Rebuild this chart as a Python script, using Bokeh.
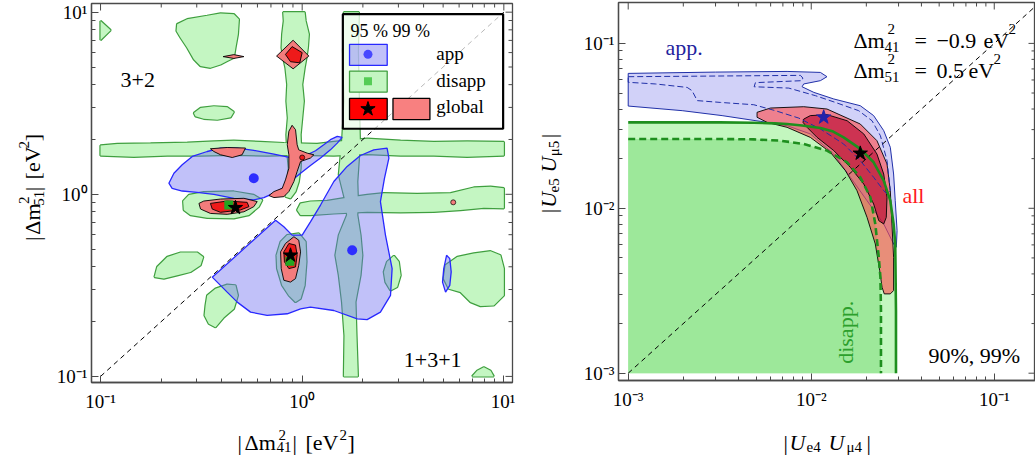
import numpy as np
from bokeh.plotting import figure
from bokeh.layouts import row, column
from bokeh.models import FixedTicker, Label, Range1d, CustomJSTickFormatter
from bokeh.embed import file_html
from bokeh.resources import INLINE

SERIF = "Liberation Serif"

# ================= LEFT PANEL  (values are log10 of |dm41^2|/eV^2 , |dm51^2|/eV^2) =================
# disappearance 99% regions
dis_band_h = [(-1.0, 0.268), (-0.917, 0.276), (-0.752, 0.279), (-0.570, 0.283), (-0.438, 0.290), (-0.339, 0.294),
              (-0.207, 0.287), (-0.091, 0.281), (0.074, 0.276), (0.157, 0.287), (0.322, 0.305), (0.488, 0.294),
              (0.653, 0.287), (0.818, 0.290), (1.0, 0.287), (1.0, 0.213), (0.818, 0.206), (0.653, 0.213),
              (0.488, 0.213), (0.322, 0.221), (0.157, 0.213), (-0.008, 0.217), (-0.174, 0.213), (-0.339, 0.217),
              (-0.504, 0.213), (-0.669, 0.213), (-0.835, 0.206), (-1.0, 0.213)]
dis_band_v09 = [(-0.094, 1.0), (0.012, 1.0), (0.017, 0.952), (0.033, 0.879), (0.028, 0.805), (0.021, 0.750),
                (0.012, 0.695), (0.000, 0.603), (0.008, 0.511), (0.000, 0.419), (-0.008, 0.327), (-0.005, 0.235),
                (-0.008, 0.143), (-0.017, 0.070), (-0.033, 0.015), (-0.058, -0.022), (-0.083, -0.013),
                (-0.074, 0.051), (-0.066, 0.143), (-0.074, 0.235), (-0.078, 0.327), (-0.071, 0.419),
                (-0.078, 0.511), (-0.074, 0.603), (-0.083, 0.695), (-0.094, 0.750), (-0.102, 0.805),
                (-0.099, 0.879), (-0.091, 0.952)]
dis_band_v18 = [(0.207, 1.0), (0.203, 0.787), (0.210, 0.511), (0.198, 0.290), (0.190, 0.199), (0.182, 0.107),
                (0.215, -0.040), (0.223, -0.114), (0.182, -0.224), (0.165, -0.335), (0.182, -0.445),
                (0.198, -0.592), (0.210, -0.776), (0.207, -1.0), (0.276, -1.0), (0.269, -0.776), (0.264, -0.592),
                (0.289, -0.445), (0.298, -0.335), (0.289, -0.224), (0.273, -0.114), (0.276, -0.040),
                (0.273, 0.070), (0.281, 0.199), (0.286, 0.290), (0.281, 0.511), (0.276, 0.787), (0.281, 1.0)]
dis_band_h09 = [(-0.008, -0.050), (0.041, -0.040), (0.124, -0.037), (0.207, -0.022), (0.322, -0.004),
                (0.405, 0.006), (0.570, 0.002), (0.736, 0.006), (0.851, 0.037), (0.934, 0.042), (1.0, 0.033),
                (1.0, -0.077), (0.901, -0.074), (0.785, -0.086), (0.653, -0.096), (0.488, -0.099),
                (0.322, -0.096), (0.157, -0.105), (0.041, -0.114), (-0.008, -0.114), (-0.025, -0.086)]
dis_ring_a = [(-0.590, -0.037), (-0.562, -0.004), (-0.488, 0.011), (-0.339, 0.015), (-0.240, -0.004),
              (-0.198, -0.031), (-0.215, -0.068), (-0.264, -0.114), (-0.339, -0.132), (-0.471, -0.129),
              (-0.554, -0.114), (-0.587, -0.086)]
dis_ring_b = [(-0.107, -0.261), (-0.074, -0.224), (-0.017, -0.215), (0.017, -0.261), (0.021, -0.371),
              (0.012, -0.500), (-0.008, -0.574), (-0.033, -0.592), (-0.066, -0.555), (-0.099, -0.500),
              (-0.124, -0.408), (-0.127, -0.335)]
dis_blob_corner = [(-1.0, 0.952), (-0.950, 0.901), (-1.0, 0.847)]
dis_blob_top = [(-0.620, 0.934), (-0.570, 0.961), (-0.471, 0.980), (-0.405, 0.993), (-0.339, 0.989),
                (-0.314, 0.961), (-0.319, 0.879), (-0.331, 0.805), (-0.339, 0.750), (-0.372, 0.732),
                (-0.405, 0.713), (-0.455, 0.695), (-0.504, 0.704), (-0.537, 0.741), (-0.570, 0.805),
                (-0.603, 0.860), (-0.623, 0.897)]
dis_blob_mid = [(-0.537, 0.447), (-0.504, 0.474), (-0.438, 0.483), (-0.372, 0.478), (-0.339, 0.452),
                (-0.355, 0.423), (-0.421, 0.410), (-0.488, 0.415), (-0.529, 0.428)]
dis_blob_left = [(-0.732, -0.454), (-0.719, -0.399), (-0.669, -0.344), (-0.603, -0.320), (-0.521, -0.320),
                 (-0.491, -0.344), (-0.504, -0.390), (-0.554, -0.426), (-0.620, -0.445), (-0.686, -0.463)]
dis_blob_lowleft = [(-0.479, -0.610), (-0.471, -0.555), (-0.430, -0.518), (-0.372, -0.496), (-0.331, -0.500),
                    (-0.319, -0.555), (-0.339, -0.629), (-0.388, -0.675), (-0.430, -0.730), (-0.463, -0.711),
                    (-0.484, -0.665)]
dis_blob_right1 = [(0.421, -0.371), (0.455, -0.338), (0.479, -0.371), (0.488, -0.445), (0.471, -0.509),
                   (0.438, -0.528), (0.413, -0.482), (0.405, -0.426)]
dis_blob_right2 = [(0.711, -0.390), (0.769, -0.344), (0.851, -0.325), (0.934, -0.313), (0.983, -0.335),
                   (1.0, -0.408), (1.0, -0.555), (0.950, -0.610), (0.884, -0.614), (0.835, -0.592),
                   (0.785, -0.537), (0.727, -0.518), (0.702, -0.463)]
dis_blob_bottom = [(0.843, -1.0), (0.868, -0.969), (0.901, -0.950), (0.934, -0.969), (0.950, -1.0)]

# appearance 99% regions
app_upper = [(-0.661, 0.061), (-0.636, 0.116), (-0.595, 0.162), (-0.545, 0.208), (-0.471, 0.235),
             (-0.405, 0.254), (-0.322, 0.254), (-0.240, 0.241), (-0.140, 0.221), (-0.058, 0.202),
             (0.017, 0.213), (0.066, 0.239), (0.107, 0.272), (0.140, 0.300), (0.174, 0.318), (0.198, 0.313),
             (0.174, 0.281), (0.140, 0.244), (0.091, 0.199), (0.041, 0.158), (-0.008, 0.116), (-0.058, 0.070),
             (-0.099, 0.033), (-0.140, 0.006), (-0.190, -0.018), (-0.240, -0.031), (-0.339, -0.022),
             (-0.438, 0.000), (-0.521, 0.011), (-0.595, 0.018), (-0.645, 0.033)]
app_lower = [(-0.446, -0.455), (-0.355, -0.365), (-0.273, -0.283), (-0.190, -0.200), (-0.132, -0.142),
             (-0.091, -0.178), (-0.050, -0.224), (0.000, -0.224), (0.041, -0.151), (0.091, -0.059),
             (0.157, 0.070), (0.223, 0.153), (0.289, 0.213), (0.355, 0.244), (0.421, 0.254), (0.430, 0.199),
             (0.408, 0.088), (0.388, -0.040), (0.413, -0.224), (0.446, -0.408), (0.438, -0.555),
             (0.388, -0.647), (0.322, -0.688), (0.273, -0.684), (0.157, -0.638), (0.041, -0.619),
             (-0.008, -0.629), (-0.074, -0.656), (-0.174, -0.665), (-0.256, -0.647), (-0.322, -0.592),
             (-0.372, -0.537)]
app_small = [(0.702, -0.408), (0.716, -0.335), (0.732, -0.353), (0.739, -0.426), (0.732, -0.500),
             (0.711, -0.537), (0.696, -0.482)]

# global fit 95% (inner) and 99% (outer) regions
glob_diamond_out = [(-0.127, 0.759), (-0.045, 0.846), (0.033, 0.759), (-0.045, 0.689)]
glob_diamond_in = [(-0.083, 0.768), (-0.050, 0.811), (0.000, 0.778), (-0.012, 0.722), (-0.058, 0.728)]
glob_sliver = [(-0.392, 0.756), (-0.339, 0.767), (-0.289, 0.756), (-0.339, 0.746)]
glob_stripe = [(-0.050, 0.379), (-0.033, 0.355), (-0.025, 0.272), (-0.017, 0.244), (0.025, 0.226),
               (0.058, 0.217), (0.041, 0.199), (-0.008, 0.180), (-0.025, 0.125), (-0.041, 0.070),
               (-0.066, 0.015), (-0.091, -0.013), (-0.140, -0.018), (-0.165, -0.007), (-0.140, 0.015),
               (-0.099, 0.033), (-0.083, 0.079), (-0.066, 0.143), (-0.066, 0.217), (-0.074, 0.272),
               (-0.066, 0.346)]
glob_patch = [(-0.455, 0.250), (-0.372, 0.257), (-0.281, 0.254), (-0.298, 0.217), (-0.347, 0.202),
              (-0.405, 0.217), (-0.438, 0.235)]
glob_left_out = [(-0.512, -0.050), (-0.488, -0.037), (-0.405, -0.026), (-0.289, -0.022), (-0.223, -0.040),
                 (-0.240, -0.068), (-0.289, -0.096), (-0.372, -0.110), (-0.455, -0.105), (-0.504, -0.081)]
glob_left_in = [(-0.455, -0.050), (-0.372, -0.037), (-0.273, -0.044), (-0.264, -0.068), (-0.306, -0.086),
                (-0.405, -0.099), (-0.446, -0.081)]
glob_low_out = [(-0.107, -0.316), (-0.083, -0.270), (-0.041, -0.233), (-0.017, -0.252), (-0.008, -0.316),
                (-0.017, -0.390), (-0.033, -0.463), (-0.058, -0.482), (-0.091, -0.472), (-0.104, -0.408)]
glob_low_in = [(-0.091, -0.316), (-0.066, -0.270), (-0.033, -0.279), (-0.025, -0.335), (-0.033, -0.399),
               (-0.066, -0.408), (-0.088, -0.371)]
glob_islands_out = [(0.749, -0.044)]
glob_islands_in = [(0.000, 0.202)]

app_best = [(-0.240, 0.088), (0.248, -0.307)]
dis_best = [(-0.364, -0.059), (-0.061, -0.368)]
glob_best = [(-0.331, -0.074), (-0.058, -0.335)]

# ================= RIGHT PANEL (values are log10 of |Ue4 Umu4| , |Ue5 Umu5|) =================
dis99_edge = [(-3.0, -1.479), (-2.5, -1.479), (-2.314, -1.481), (-2.20, -1.485), (-2.132, -1.489),
              (-2.05, -1.498), (-1.950, -1.513), (-1.88, -1.535), (-1.823, -1.570), (-1.732, -1.640),
              (-1.659, -1.721), (-1.604, -1.832), (-1.568, -1.954), (-1.550, -2.095), (-1.541, -2.216),
              (-1.537, -2.620), (-1.537, -3.0)]
dis90_edge = [(-3.0, -1.580), (-2.5, -1.580), (-2.314, -1.582), (-2.168, -1.590), (-2.041, -1.610),
              (-1.914, -1.650), (-1.804, -1.721), (-1.732, -1.812), (-1.677, -1.933), (-1.650, -2.095),
              (-1.631, -2.297), (-1.622, -2.418), (-1.619, -2.620), (-1.619, -3.0)]
app99_r = [(-3.0, -1.182), (-2.523, -1.174), (-2.132, -1.170), (-1.950, -1.176), (-1.914, -1.202),
           (-1.950, -1.226), (-2.041, -1.246), (-2.050, -1.263), (-1.986, -1.297), (-1.877, -1.337),
           (-1.732, -1.378), (-1.659, -1.438), (-1.604, -1.529), (-1.568, -1.630), (-1.550, -1.792),
           (-1.541, -1.954), (-1.531, -2.135), (-1.535, -2.236), (-1.550, -2.216), (-1.604, -2.095),
           (-1.695, -1.954), (-1.786, -1.812), (-1.877, -1.671), (-2.005, -1.549), (-2.132, -1.499),
           (-2.278, -1.473), (-2.487, -1.438), (-2.705, -1.408), (-3.0, -1.380)]
app90_r = [(-3.0, -1.202), (-2.523, -1.198), (-2.059, -1.194), (-2.046, -1.210), (-2.050, -1.226),
           (-2.305, -1.238), (-2.312, -1.263), (-2.123, -1.271), (-1.977, -1.317), (-1.868, -1.358),
           (-1.741, -1.408), (-1.668, -1.469), (-1.622, -1.560), (-1.586, -1.711), (-1.568, -1.893),
           (-1.586, -1.913), (-1.604, -1.893), (-1.659, -1.812), (-1.732, -1.711), (-1.823, -1.610),
           (-1.950, -1.519), (-2.068, -1.453), (-2.196, -1.408), (-2.314, -1.372), (-2.496, -1.358),
           (-2.623, -1.347), (-2.651, -1.287), (-2.678, -1.267), (-2.851, -1.246), (-3.0, -1.236)]
all99_r = [(-2.296, -1.418), (-2.223, -1.392), (-2.041, -1.384), (-1.914, -1.398), (-1.732, -1.489),
           (-1.641, -1.590), (-1.586, -1.731), (-1.568, -1.893), (-1.559, -2.095), (-1.550, -2.297),
           (-1.550, -2.499), (-1.568, -2.519), (-1.601, -2.519), (-1.613, -2.479), (-1.626, -2.378),
           (-1.650, -2.216), (-1.695, -2.055), (-1.750, -1.893), (-1.813, -1.772), (-1.895, -1.661),
           (-2.005, -1.570), (-2.132, -1.509), (-2.241, -1.479), (-2.296, -1.448)]
all90_r = [(-2.041, -1.459), (-2.005, -1.438), (-1.914, -1.432), (-1.804, -1.469), (-1.713, -1.549),
           (-1.641, -1.671), (-1.604, -1.792), (-1.586, -1.933), (-1.590, -2.055), (-1.604, -2.095),
           (-1.631, -2.075), (-1.659, -1.974), (-1.713, -1.853), (-1.786, -1.752), (-1.877, -1.650),
           (-1.968, -1.570), (-2.023, -1.509), (-2.045, -1.479)]
app_best_r = [(-1.932, -1.448)]
all_best_r = [(-1.732, -1.667)]

# tick values
left_ticks = [0.1, 1.0, 10.0]
left_minor = [0.2, 0.3, 0.4, 0.5, 0.6, 0.7, 0.8, 0.9, 2, 3, 4, 5, 6, 7, 8, 9]
right_ticks = [1e-3, 1e-2, 1e-1]
right_minor = [2e-3, 3e-3, 4e-3, 5e-3, 6e-3, 7e-3, 8e-3, 9e-3, 2e-2, 3e-2, 4e-2, 5e-2, 6e-2, 7e-2, 8e-2,
               9e-2, 2e-1]


def xy(poly):
    a = np.asarray(poly, dtype=float)
    return (10.0 ** a[:, 0]).tolist(), (10.0 ** a[:, 1]).tolist()


def many(polys):
    xs, ys = [], []
    for pl in polys:
        x, y = xy(pl)
        xs.append(x)
        ys.append(y)
    return xs, ys


FMT = CustomJSTickFormatter(code="""
const e = Math.round(Math.log10(tick));
const sup = {"-3": "\u207b\u00b3", "-2": "\u207b\u00b2", "-1": "\u207b\u00b9", "0": "\u2070", "1": "\u00b9"};
return "10" + sup[String(e)];
""")
AX = "#4a4a4a"
MAIN_H = 418
LAB_H = 37


def style_axis(ax, ticks, minor):
    ax.ticker = FixedTicker(ticks=ticks, minor_ticks=minor)
    ax.formatter = FMT
    ax.major_tick_in = 7
    ax.major_tick_out = 0
    ax.minor_tick_in = 4
    ax.minor_tick_out = 0
    ax.axis_line_color = AX
    ax.axis_line_width = 1.3
    ax.major_tick_line_color = AX
    ax.minor_tick_line_color = AX
    ax.major_label_text_font = SERIF
    ax.major_label_text_font_size = "19px"
    ax.major_label_text_color = "black"


def make_fig(w, xr, yr, left, right, top, frame_h, ticks, minor):
    p = figure(width=w, height=MAIN_H, x_axis_type="log", y_axis_type="log",
               x_range=Range1d(*xr), y_range=Range1d(*yr), output_backend="svg",
               toolbar_location=None, min_border_left=left, min_border_right=right,
               min_border_top=top, min_border_bottom=MAIN_H - top - frame_h)
    p.xgrid.visible = False
    p.ygrid.visible = False
    p.outline_line_color = AX
    p.outline_line_width = 1.3
    style_axis(p.xaxis[0], ticks, minor)
    style_axis(p.yaxis[0], ticks, minor)
    p.xaxis[0].major_label_standoff = 8
    p.yaxis[0].major_label_standoff = 4
    # inward ticks on the top and right frame edges
    inside_t = [t for t in ticks if xr[0] <= t <= xr[1]]
    inside_m = [t for t in minor if xr[0] <= t <= xr[1]]
    p.ray(x=inside_t, y=[yr[1]] * len(inside_t), length=7, length_units="screen", angle=-np.pi / 2,
          line_color=AX, line_width=1)
    p.ray(x=inside_m, y=[yr[1]] * len(inside_m), length=4, length_units="screen", angle=-np.pi / 2,
          line_color=AX, line_width=1)
    inside_t = [t for t in ticks if yr[0] <= t <= yr[1]]
    inside_m = [t for t in minor if yr[0] <= t <= yr[1]]
    p.ray(x=[xr[1]] * len(inside_t), y=inside_t, length=7, length_units="screen", angle=np.pi,
          line_color=AX, line_width=1)
    p.ray(x=[xr[1]] * len(inside_m), y=inside_m, length=4, length_units="screen", angle=np.pi,
          line_color=AX, line_width=1)
    return p


def label_fig(w, h):
    f = figure(width=w, height=h, x_range=Range1d(0, w), y_range=Range1d(0, h), output_backend="svg",
               toolbar_location=None, min_border=0, x_axis_location=None, y_axis_location=None)
    f.grid.visible = False
    f.outline_line_color = None
    return f


def txt(p, x, y, s, size=21, color="black", style="normal", dx=0, dy=0, align="left",
        baseline="alphabetic", angle=0.0):
    p.add_layout(Label(x=x, y=y, text=s, x_offset=dx, y_offset=dy, text_font=SERIF,
                       text_font_size=f"{size}px", text_color=color, text_font_style=style,
                       text_align=align, text_baseline=baseline, angle=angle))


def rich(p, x, y, pieces):
    for s, a, c, size in pieces:
        txt(p, x, y, s, size=size, dx=a, dy=c)


# ------------------------------ LEFT FIGURE ------------------------------
LX = (0.0902, 11.04)
LY = (0.0926, 11.16)
p1 = make_fig(465, LX, LY, 41, 3, 3, 379, left_ticks, left_minor)

greens = [dis_band_h, dis_band_v09, dis_band_v18, dis_band_h09, dis_ring_a, dis_ring_b, dis_blob_corner,
          dis_blob_top, dis_blob_mid, dis_blob_left, dis_blob_lowleft, dis_blob_right1, dis_blob_right2,
          dis_blob_bottom]
gxs, gys = many(greens)
p1.patches(gxs, gys, fill_color=None, line_color="#3f9f3f", line_width=2.4)
p1.patches(gxs, gys, fill_color="#c4f6c2", line_color=None)

axs, ays = many([app_upper, app_lower, app_small])
p1.patches(axs, ays, fill_color="#6b6bf0", fill_alpha=0.42, line_color="#2828ff", line_width=1.3)

oxs, oys = many([glob_diamond_out, glob_sliver, glob_stripe, glob_patch, glob_left_out, glob_low_out])
p1.patches(oxs, oys, fill_color="#f47c7c", line_color="black", line_width=0.9)
ixs, iys = many([glob_diamond_in, glob_left_in, glob_low_in])
p1.patches(ixs, iys, fill_color="#ee1a1a", line_color="black", line_width=0.9)
x, y = xy(glob_islands_out)
p1.scatter(x, y, marker="circle", size=5, fill_color="#f47c7c", line_color="black", line_width=0.7)
x, y = xy(glob_islands_in)
p1.scatter(x, y, marker="circle", size=5, fill_color="#ee1a1a", line_color="black", line_width=0.7)

p1.line([0.1, 10.0], [0.1, 10.0], line_color="black", line_dash="5 4", line_width=1)

x, y = xy(app_best)
p1.scatter(x, y, marker="circle", size=10, fill_color="#2e2eff", line_color=None)
x, y = xy(dis_best)
p1.scatter(x, y, marker="square", size=9, fill_color="#22a622", line_color=None)
x, y = xy(glob_best)
p1.scatter(x, y, marker="star", size=15, fill_color="black", line_color="black")

# legend
p1.quad(left=[1.591], right=[9.92], bottom=[2.29], top=[9.75], fill_color="white", fill_alpha=0.72,
        line_color="black", line_width=2.2)
p1.quad(left=[1.717], right=[2.64], bottom=[5.10], top=[6.66], fill_color="#6b6bf0", fill_alpha=0.42,
        line_color="#2828ff", line_width=1.3)
p1.quad(left=[1.717], right=[2.64], bottom=[3.64], top=[4.75], fill_color="#c4f6c2",
        line_color="#3f9f3f", line_width=1.3)
p1.quad(left=[1.717], right=[2.64], bottom=[2.57], top=[3.36], fill_color="#ff0000",
        line_color="black", line_width=1.3)
p1.quad(left=[2.82], right=[4.30], bottom=[2.57], top=[3.36], fill_color="#f88080",
        line_color="black", line_width=1.3)
p1.scatter([2.12], [5.87], marker="circle", size=9, fill_color="#4848ff", line_color=None)
p1.scatter([2.12], [4.18], marker="square", size=8, fill_color="#55cc55", line_color=None)
p1.scatter([2.12], [2.94], marker="star", size=15, fill_color="black", line_color="black")
txt(p1, 1.737, 7.89, "95 %  99 %", size=18, baseline="middle")
txt(p1, 4.62, 5.92, "app", size=19, baseline="middle")
txt(p1, 4.62, 4.22, "disapp", size=19, baseline="middle")
txt(p1, 4.62, 3.04, "global", size=19, baseline="middle")

txt(p1, 0.1257, 4.22, "3+2", size=22, baseline="middle")
txt(p1, 3.19, 0.1236, "1+3+1", size=22, baseline="middle")

# ------------------------------ RIGHT FIGURE ------------------------------
RX = (8.85e-4, 0.168)
RY = (9.03e-4, 0.177)
p2 = make_fig(460, RX, RY, 43, 0, 2, 378, right_ticks, right_minor)

x, y = xy(dis99_edge + [(-3.0, -3.0)])
p2.patch(x, y, fill_color="#c3f7bf", line_color=None)
x, y = xy(dis90_edge + [(-3.0, -3.0)])
p2.patch(x, y, fill_color="#9de89a", line_color=None)

x, y = xy(app99_r)
p2.patch(x, y, fill_color="#9a9af0", fill_alpha=0.45, line_color="#2030a8", line_width=1)
x, y = xy(all99_r)
p2.patch(x, y, fill_color="#ff4d4d", fill_alpha=0.62, line_color="black", line_width=0.9)
x, y = xy(all90_r)
p2.patch(x, y, fill_color="#b8002a", fill_alpha=0.6, line_color="black", line_width=0.9)
x, y = xy(app90_r + app90_r[:1])
p2.line(x, y, line_color="#2030a8", line_dash="6 3", line_width=1)

x, y = xy(dis99_edge)
p2.line(x, y, line_color="#1e8f1e", line_width=2.6)
x, y = xy(dis90_edge)
p2.line(x, y, line_color="#1e8f1e", line_width=2.6, line_dash="7 4")

p2.line([1e-3, 0.2], [1e-3, 0.2], line_color="black", line_dash="5 4", line_width=1)

x, y = xy(app_best_r)
p2.scatter(x, y, marker="star", size=15, fill_color="#2222aa", line_color="#2222aa")
x, y = xy(all_best_r)
p2.scatter(x, y, marker="star", size=15, fill_color="black", line_color="black")

txt(p2, 1.60e-3, 0.094, "app.", size=22, color="#1f1f9e", baseline="middle")
rich(p2, 0.0170, 0.1038, [("\u0394m", 0, 0, 22), ("2", 34, 12, 15), ("41", 31, -6, 15), ("=", 61, 0, 22),
                          ("\u22120.9", 83, 0, 22), ("eV", 130, 0, 22), ("2", 155, 12, 15)])
rich(p2, 0.0170, 0.0683, [("\u0394m", 0, 0, 22), ("2", 34, 12, 15), ("51", 31, -6, 15), ("=", 61, 0, 22),
                          ("0.5", 83, 0, 22), ("eV", 115, 0, 22), ("2", 140, 12, 15)])
txt(p2, 0.0315, 0.0119, "all", size=22, color="#ff1a1a", baseline="middle")
txt(p2, 0.01538, 1.14e-3, "disapp.", size=22, color="#2ca02c", baseline="middle", angle=np.pi / 2)
txt(p2, 0.0437, 1.28e-3, "90%, 99%", size=22, baseline="middle")

# ------------------------------ AXIS TITLES (separate text strips) ------------------------------
ylab1 = label_fig(50, MAIN_H)
for s, a, c, size in [("|", 156, 32, 22), ("\u0394m", 163, 32, 22), ("51", 195, 38, 15), ("2", 197, 23, 15),
                      ("|", 211, 32, 22), ("[eV", 224, 32, 22), ("2", 258, 23, 15), ("]", 266, 32, 22)]:
    txt(ylab1, c, a, s, size=size, angle=np.pi / 2)

xlab1 = label_fig(515, LAB_H)
for s, a, c, size in [("|", 237, 13, 22), ("\u0394m", 244, 13, 22), ("41", 276, 9, 15), ("2", 278, 21, 15),
                      ("|", 292, 13, 22), ("[eV", 305, 13, 22), ("2", 339, 21, 15), ("]", 347, 13, 22)]:
    txt(xlab1, a, c, s, size=size)

ylab2 = label_fig(60, MAIN_H)
for s, a, c, size, st in [("|", 185, 33, 22, "normal"), ("U", 191, 33, 22, "italic"),
                          ("e5", 208, 38, 15, "normal"), ("U", 230, 33, 22, "italic"),
                          ("\u03bc5", 248, 38, 15, "normal"), ("|", 268, 33, 22, "normal")]:
    txt(ylab2, c, a, s, size=size, style=st, angle=np.pi / 2)

xlab2 = label_fig(520, LAB_H)
for s, a, c, size, st in [("|", 268, 13, 22, "normal"), ("U", 274, 13, 22, "italic"),
                          ("e4", 291, 9, 15, "normal"), ("U", 313, 13, 22, "italic"),
                          ("\u03bc4", 331, 9, 15, "normal"), ("|", 351, 13, 22, "normal")]:
    txt(xlab2, a, c, s, size=size, style=st)

layout = row(column(row(ylab1, p1), xlab1), column(row(ylab2, p2), xlab2))
open("out.html", "w").write(file_html(layout, INLINE))
